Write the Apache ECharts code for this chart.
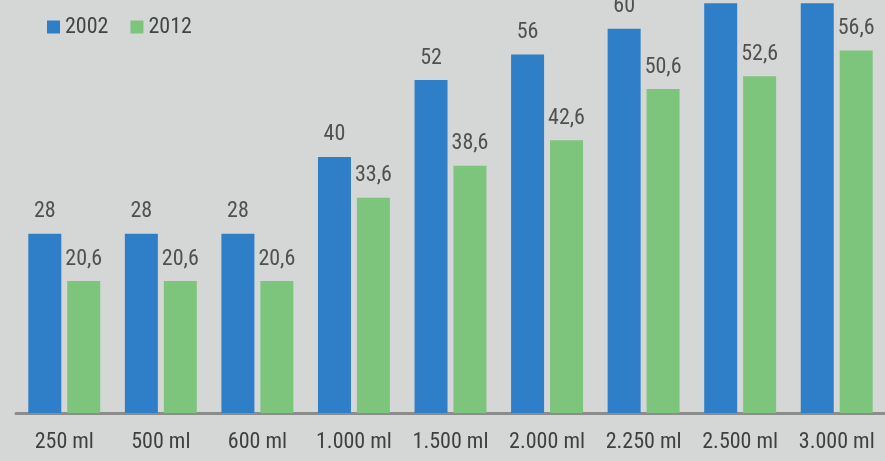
<!DOCTYPE html>
<html><head><meta charset="utf-8">
<script src="https://cdn.jsdelivr.net/npm/echarts@6/dist/echarts.min.js"></script>
<style>html,body{margin:0;padding:0;background:#d5d7d7}#c{width:885px;height:461px}</style>
</head><body><div id="c"></div>
<script>
const categories = ['250 ml','500 ml','600 ml','1.000 ml','1.500 ml','2.000 ml','2.250 ml','2.500 ml','3.000 ml'];
const values2002 = [28,28,28,40,52,56,60,64,64];
const values2012 = [20.6,20.6,20.6,33.6,38.6,42.6,50.6,52.6,56.6];
const seriesNames = ['2002','2012'];

const FONT = '"Roboto Condensed", "Liberation Sans Narrow", Roboto, sans-serif';
const chart = echarts.init(document.getElementById('c'));
const fmt = p => String(p.value).replace('.', ',');
const labelStyle = {show:true, position:'top', distance:11, color:'#505050', fontSize:22, fontFamily:FONT, formatter: fmt};
chart.setOption({
  backgroundColor:'#d5d7d7',
  animation:false,
  legend:{left:42, top:11, itemWidth:13, itemHeight:13, itemGap:22, icon:'rect',
    textStyle:{color:'#444', fontSize:22, fontFamily:FONT}, data:seriesNames},
  grid:{left:16, right:-2, top:0, bottom:48, containLabel:false},
  xAxis:{type:'category', data:categories,
    axisLine:{lineStyle:{color:'#8c8c8c', width:3}}, axisTick:{show:false},
    axisLabel:{color:'#404040', fontSize:22, fontFamily:FONT, margin:18, interval:0, hideOverlap:false}},
  yAxis:{type:'value', min:0, max:64.5, show:false, splitLine:{show:false}},
  series:[
    {name:seriesNames[0], type:'bar', data:values2002, barWidth:33, barGap:'18%', itemStyle:{color:'#2f7ec8'}, label:labelStyle},
    {name:seriesNames[1], type:'bar', data:values2012, barWidth:33, itemStyle:{color:'#7dc47d'}, label:labelStyle}
  ]
});
</script></body></html>
